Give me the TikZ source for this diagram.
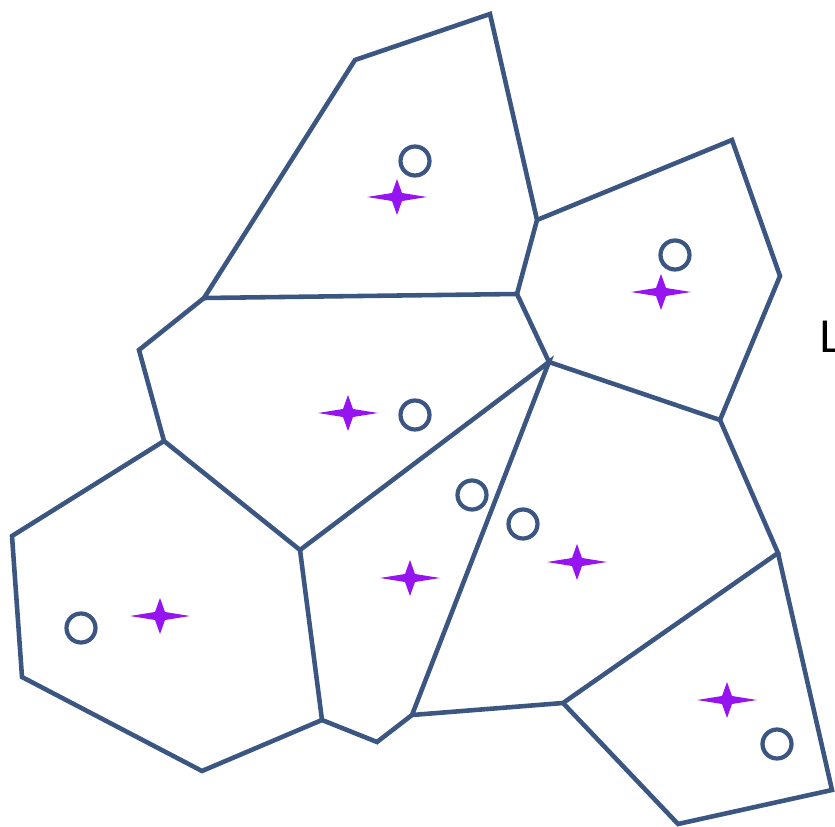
\documentclass[tikz,border=0pt]{standalone}
\usepackage{fontspec}
\setmainfont{Liberation Sans}
\usetikzlibrary{positioning}

\definecolor{edgeblue}{RGB}{60,86,130}
\definecolor{sparkpurple}{RGB}{150,20,240}

\tikzset{
  sparkle/.pic={
    \fill[sparkpurple] (30,0) -- (5,-4) -- (0,-18) -- (-5,-4) -- (-30,0)
      -- (-5,4) -- (0,18) -- (5,4) -- cycle;
  }
}

\begin{document}
\begin{tikzpicture}[x=0.02cm, y=-0.02cm,
    cell/.style={draw=edgeblue, line width=2.6pt, line join=miter},
    site/.style={circle, draw=edgeblue, line width=2.4pt, minimum size=0.58cm, inner sep=0pt},
    lbl/.style={font=\fontsize{26}{30}\selectfont, inner sep=0pt, anchor=base west}
]
\clip (0,0) rectangle (835,827);

% vertices of the cells
\coordinate (A) at (355,60);
\coordinate (B) at (490,14);
\coordinate (C) at (537,220);
\coordinate (D) at (517,294);
\coordinate (E) at (204,298);
\coordinate (F) at (732,140);
\coordinate (G) at (780,276);
\coordinate (H) at (720,420);
\coordinate (I) at (549,362);
\coordinate (L) at (139,350);
\coordinate (K) at (164,441);
\coordinate (J) at (300,550);
\coordinate (P) at (12,536);
\coordinate (O) at (22,677);
\coordinate (N) at (202,771);
\coordinate (M) at (322,720);
\coordinate (R) at (377,742);
\coordinate (Q) at (412,715);
\coordinate (S) at (778,553);
\coordinate (T) at (563,703);
\coordinate (U) at (832,790);
\coordinate (V) at (678,824);

\draw[cell] (D) -- (E) -- (A) -- (B) -- (C) -- (D) -- (I);
\draw[cell] (C) -- (F) -- (G) -- (H) -- (I);
\draw[cell] (E) -- (L) -- (K) -- (J) -- (I) -- (Q);
\draw[cell] (K) -- (P) -- (O) -- (N) -- (M) -- (J);
\draw[cell] (M) -- (R) -- (Q) -- (T) -- (S) -- (H);
\draw[cell] (S) -- (U) -- (V) -- (T);

% sites
\node[site] (s1) at (415,161) {};
\node[site] (s2) at (675,255) {};
\node[site] (s3) at (415,415) {};
\node[site] (s4) at (472,495) {};
\node[site] (s5) at (523,524) {};
\node[site] (s6) at (81,628) {};
\node[site] (s7) at (777,744) {};

% centroids
\pic at (397,197) {sparkle};
\pic at (661,292) {sparkle};
\pic at (348,413) {sparkle};
\pic at (410,578) {sparkle};
\pic at (577,562) {sparkle};
\pic at (160,616) {sparkle};
\pic at (727,700) {sparkle};

\node[lbl] (cut) at (819,353) {L};
\end{tikzpicture}
\end{document}
